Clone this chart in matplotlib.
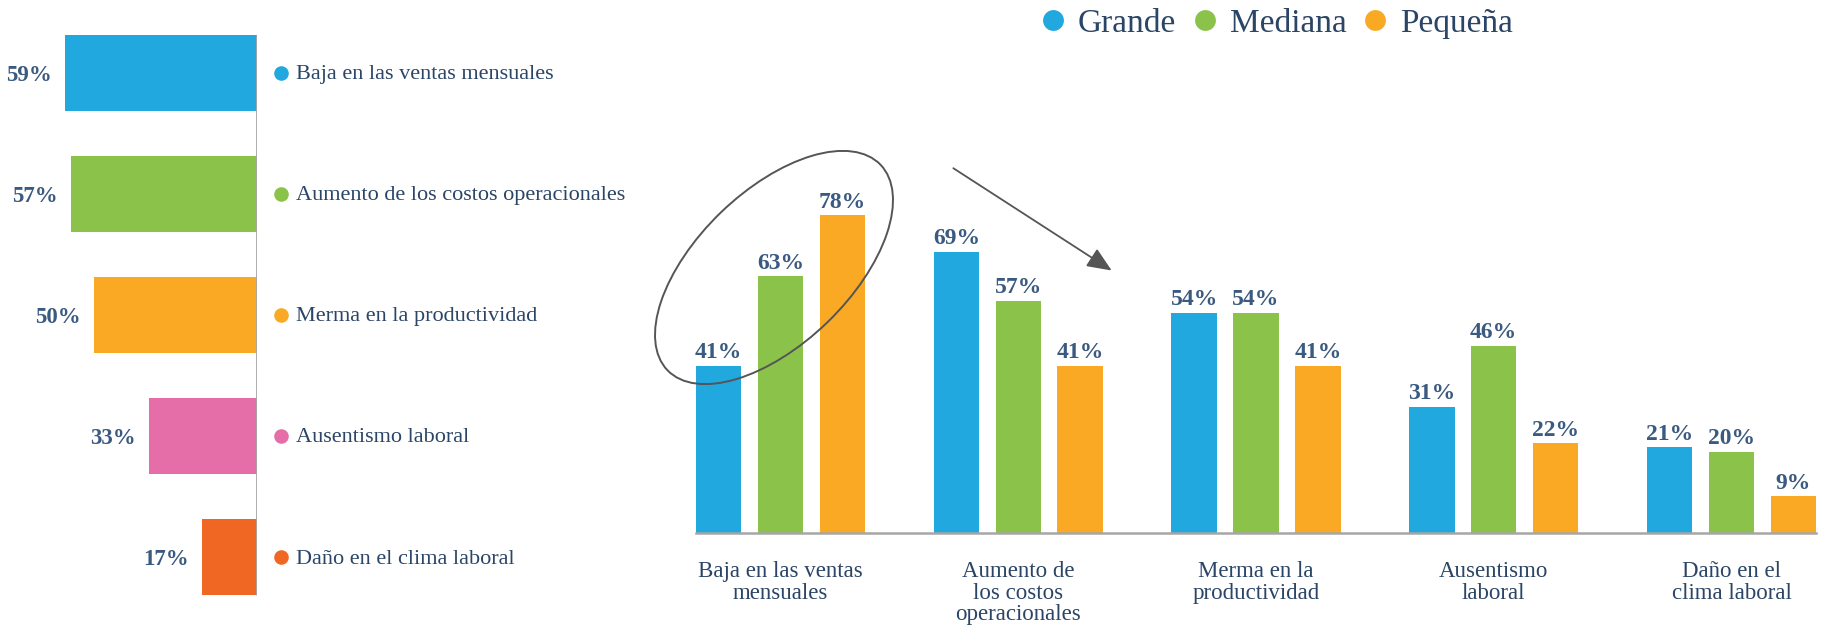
import matplotlib
matplotlib.use("Agg")
import matplotlib.pyplot as plt
from matplotlib.patches import Ellipse, FancyArrowPatch
from matplotlib.lines import Line2D
import numpy as np

plt.rcParams['font.family'] = ['Liberation Serif', 'DejaVu Serif']

# ---- data ----
left_categories = ["Baja en las ventas mensuales", "Aumento de los costos operacionales",
                   "Merma en la productividad", "Ausentismo laboral", "Daño en el clima laboral"]
left_values = [59, 57, 50, 33, 17]
left_colors = ["#20a8df", "#8bc34a", "#f9a924", "#e56ea9", "#f06723"]

groups = ["Baja en las ventas\nmensuales", "Aumento de\nlos costos\noperacionales",
          "Merma en la\nproductividad", "Ausentismo\nlaboral", "Daño en el\nclima laboral"]
series_names = ["Grande", "Mediana", "Pequeña"]
grande = [41, 69, 54, 31, 21]
mediana = [63, 57, 54, 46, 20]
pequena = [78, 41, 41, 22, 9]
series_colors = ["#20a8df", "#8bc34a", "#f9a924"]

TXT = "#2b4566"
VAL = "#3a5a80"

W, H = 1825, 628
fig = plt.figure(figsize=(W / 100, H / 100), dpi=100)

# ---- left horizontal bar chart ----
axL = fig.add_axes([0, 1 - 617.5 / H, 257 / W, (617.5 - 12.2) / H])
ypos = np.arange(len(left_values))
bh = 0.625
axL.barh(ypos, left_values, height=bh, color=left_colors)
axL.set_xlim(78.8, 0)
axL.set_ylim(len(left_values) - 0.5, -0.5)
axL.vlines(0, -bh / 2, len(left_values) - 1 + bh / 2, color="#a6a6a6", lw=2, zorder=3)
for sp in axL.spines.values():
    sp.set_visible(False)
axL.set_xticks([])
axL.set_yticks([])
dot_shift = matplotlib.transforms.ScaledTranslation(24 / 100, 0, fig.dpi_scale_trans)
for i, (v, c, lab) in enumerate(zip(left_values, left_colors, left_categories)):
    axL.annotate(f"{v}%", xy=(v, i), xytext=(-9.5, -2), textcoords="offset points",
                 ha="right", va="center", fontsize=16.5, fontweight="bold", color=VAL,
                 annotation_clip=False)
    axL.plot([0], [i], marker="o", ms=10.5, color=c, mec="none", clip_on=False,
             transform=axL.transData + dot_shift)
    axL.annotate(lab, xy=(0, i), xytext=(27.8, -1.5), textcoords="offset points",
                 ha="left", va="center", fontsize=16, color=TXT, annotation_clip=False)

# ---- right grouped bar chart ----
axR = fig.add_axes([696 / W, 1 - 533 / H, (1816 - 696) / W, 407.4 / H])
x = np.arange(len(groups))
off = 0.26
bw = 0.191
for k, (vals, c) in enumerate(zip([grande, mediana, pequena], series_colors)):
    xs = x + (k - 1) * off
    axR.bar(xs, vals, width=bw, color=c)
    for xi, v in zip(xs, vals):
        axR.annotate(f"{v}%", xy=(xi, v), xytext=(0, 5.5), textcoords="offset points",
                     ha="center", va="baseline", fontsize=17, fontweight="bold", color=VAL,
                     annotation_clip=False)
axR.set_xlim(-0.3555, 4.3555)
axR.set_ylim(0, 100)
for s in ["top", "right", "left"]:
    axR.spines[s].set_visible(False)
axR.spines["bottom"].set_color("#a6a6a6")
axR.spines["bottom"].set_linewidth(1.8)
axR.set_yticks([])
axR.set_xticks(x)
axR.set_xticklabels(groups, fontsize=16.5, color=TXT, linespacing=1.05)
axR.tick_params(axis="x", length=0, pad=20)

# legend
handles = [Line2D([], [], marker="o", ls="none", ms=15, color=c, mec="none") for c in series_colors]
leg = fig.legend(handles, series_names, loc="center", bbox_to_anchor=(1277 / W, 1 - 23.5 / H),
                 ncol=3, frameon=False, fontsize=24, handlelength=0.7, handletextpad=0.4,
                 columnspacing=0.5, borderpad=0, borderaxespad=0)
for t in leg.get_texts():
    t.set_color(TXT)

# annotations: ellipse + arrow (figure inches)
ell = Ellipse((7.74, (H - 267.5) / 100), 2.96, 1.53, angle=44, fill=False,
              edgecolor="#555555", lw=1.4, transform=fig.dpi_scale_trans)
fig.add_artist(ell)
arr = FancyArrowPatch((9.51, (H - 166.7) / 100), (11.14, (H - 272) / 100),
                      arrowstyle="-|>,head_length=0.75,head_width=0.32", mutation_scale=20,
                      color="#555555", lw=1.3, transform=fig.dpi_scale_trans)
fig.add_artist(arr)

fig.savefig("out.png", dpi=100)
